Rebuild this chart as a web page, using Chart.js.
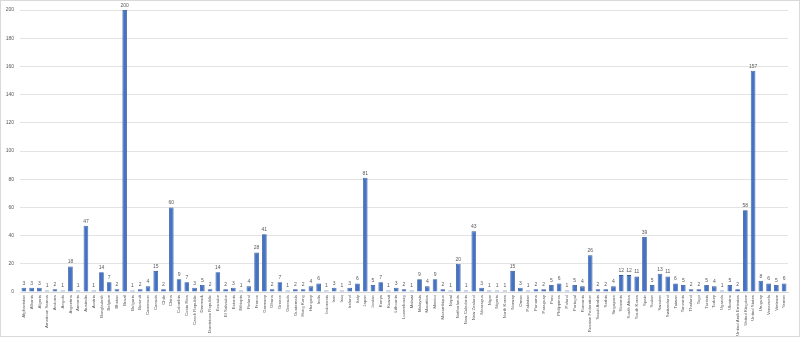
<!DOCTYPE html>
<html>
<head>
<meta charset="utf-8">
<script src="https://cdn.jsdelivr.net/npm/chart.js@4"></script>
<style>
    body { margin: 0; background: #fff; }
    #wrap { width: 800px; height: 337px; border: 1px solid #d9d9d9; box-sizing: border-box; }
    #wrap canvas { display: block; }
</style>
</head>
<body>
<div id="wrap"><canvas id="chart" width="798" height="335"></canvas></div>
<script>
const countries = [
    'Afghanistan', 'Albania', 'Algeria', 'American Samoa', 'Andorra', 'Angola', 'Argentina', 'Armenia',
    'Australia', 'Austria', 'Bangladesh', 'Belgium', 'Bhutan', 'Brazil', 'Bulgaria', 'Burundi',
    'Cameroon', 'Canada', 'Chile', 'China', 'Colombia', 'Costa Rica', 'Czech Republic', 'Denmark',
    'Dominican Republic', 'Ecuador', 'El Salvador', 'Estonia', 'Ethiopia', 'Finland', 'France', 'Germany',
    'Ghana', 'Greece', 'Grenada', 'Guatemala', 'Hong Kong', 'Hungary', 'India', 'Indonesia',
    'Iran', 'Iraq', 'Ireland', 'Italy', 'Japan', 'Jordan', 'Kenya', 'Kuwait',
    'Lithuania', 'Luxembourg', 'Malawi', 'Malaysia', 'Mauritius', 'Mexico', 'Mozambique', 'Nepal',
    'Netherlands', 'New Caledonia', 'New Zealand', 'Nicaragua', 'Niger', 'Nigeria', 'North Korea', 'Norway',
    'Oman', 'Pakistan', 'Panama', 'Paraguay', 'Peru', 'Philippines', 'Poland', 'Portugal',
    'Romania', 'Russian Federation', 'Saudi Arabia', 'Serbia', 'Singapore', 'Slovenia', 'South Africa', 'South Korea',
    'Spain', 'Sudan', 'Sweden', 'Switzerland', 'Taiwan', 'Tanzania', 'Thailand', 'Togo',
    'Tunisia', 'Turkey', 'Uganda', 'Ukraine', 'United Arab Emirates', 'United Kingdom', 'United States', 'Uruguay',
    'Venezuela', 'Vietnam', 'Yemen'
];
const counts = [
    3, 3, 3, 1, 2, 1, 18, 1,
    47, 1, 14, 7, 2, 200, 1, 2,
    4, 15, 2, 60, 9, 7, 3, 5,
    2, 14, 2, 3, 1, 4, 28, 41,
    2, 7, 1, 2, 2, 4, 6, 1,
    3, 1, 3, 6, 81, 5, 7, 1,
    3, 2, 1, 9, 4, 9, 2, 1,
    20, 1, 43, 3, 1, 1, 1, 15,
    3, 1, 2, 2, 5, 6, 1, 5,
    4, 26, 2, 2, 4, 12, 12, 11,
    39, 5, 13, 11, 6, 5, 2, 2,
    5, 4, 1, 5, 2, 58, 157, 8,
    6, 5, 6
];
const yTicks = [0, 20, 40, 60, 80, 100, 120, 140, 160, 180, 200];

const textColor = '#595959';

// values over the bars
const valueLabels = {
    id: 'valueLabels',
    afterDatasetsDraw(chart) {
        const ctx = chart.ctx;
        const meta = chart.getDatasetMeta(0);
        ctx.save();
        ctx.font = '5px "Liberation Sans"';
        ctx.fillStyle = textColor;
        ctx.textAlign = 'center';
        ctx.textBaseline = 'bottom';
        meta.data.forEach((bar, i) => {
            ctx.fillText(String(counts[i]), bar.x, bar.y - 2);
        });
        ctx.restore();
    }
};

new Chart(document.getElementById('chart'), {
    type: 'bar',
    data: {
        labels: countries,
        datasets: [{
            data: counts,
            backgroundColor: '#4472c4',
            borderColor: '#2f5597',
            borderWidth: 0.8,
            barPercentage: 0.6,
            categoryPercentage: 1
        }]
    },
    options: {
        responsive: false,
        animation: false,
        layout: { padding: { top: 9, right: 11, left: 0, bottom: 0 } },
        plugins: {
            legend: { display: false },
            tooltip: { enabled: false }
        },
        scales: {
            x: {
                grid: { display: false, drawTicks: false },
                border: { color: '#d9d9d9' },
                ticks: {
                    autoSkip: false,
                    minRotation: 90,
                    maxRotation: 90,
                    padding: 3,
                    color: textColor,
                    font: { family: 'Liberation Sans', size: 4.3 }
                },
                afterFit: s => { s.height = 44; }
            },
            y: {
                min: 0,
                max: 200,
                afterBuildTicks: s => { s.ticks = yTicks.map(v => ({ value: v })); },
                grid: { color: '#e3e3e3', drawTicks: false },
                border: { display: false },
                ticks: { padding: 6, color: textColor, font: { family: 'Liberation Sans', size: 5 } },
                afterFit: s => { s.width = 19; }
            }
        }
    },
    plugins: [valueLabels]
});
</script>
</body>
</html>
